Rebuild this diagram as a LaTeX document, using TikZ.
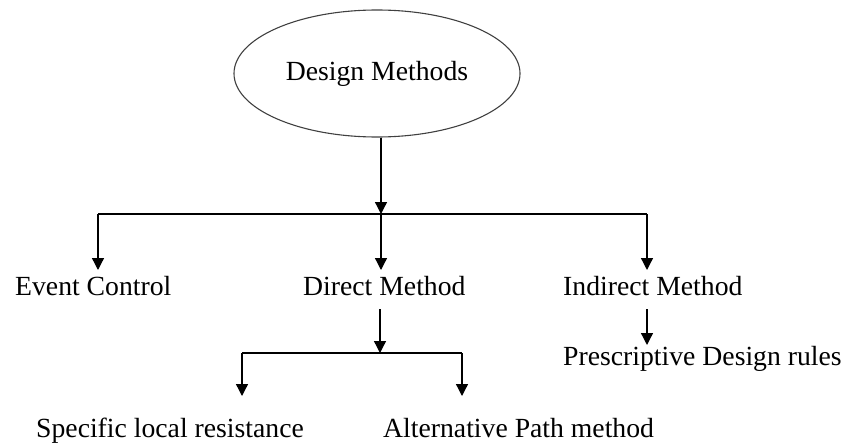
\documentclass[tikz,border=0pt]{standalone}
\usepackage{fontspec}
\setmainfont{Liberation Serif}
\usetikzlibrary{arrows.meta,shapes.geometric}
\begin{document}
\begin{tikzpicture}[x=1pt,y=-1pt,
  conn/.style={line width=1.3pt,draw=black},
  arr/.style={conn,-{Triangle[length=12pt,width=12pt]}},
  lbl/.style={anchor=base west,inner sep=0pt,font=\fontsize{27.7pt}{32pt}\selectfont}]
\useasboundingbox (0,0) rectangle (846,444);
% root
\node[ellipse,draw=black!75,line width=1.1pt,minimum width=286pt,minimum height=127pt,inner sep=0pt,
      font=\fontsize{27.7pt}{32pt}\selectfont] (dm) at (377,73.5) {Design Methods};
% labels
\node[lbl] (ec) at (15,295) {Event Control};
\node[lbl] (dir) at (303,295) {Direct Method};
\node[lbl] (ind) at (563,295) {Indirect Method};
\node[lbl] (pdr) at (563,365) {Prescriptive Design rules};
\node[lbl] (slr) at (36,437) {Specific local resistance};
\node[lbl] (apm) at (383,437) {Alternative Path method};
% junctions and arrow ends
\coordinate (j1) at (381,214);
\coordinate (j1l) at (98,214);
\coordinate (j1r) at (647,214);
\coordinate (tec) at (98,270);
\coordinate (tdir) at (381,270);
\coordinate (tind) at (647,270);
\coordinate (sdir) at (380,309);
\coordinate (j2) at (380,353);
\coordinate (j2l) at (242,353);
\coordinate (j2r) at (462,353);
\coordinate (tslr) at (242,396);
\coordinate (tapm) at (462,396);
\coordinate (sind) at (647,309);
\coordinate (tpdr) at (647,345);
% connectors
\draw[arr] (j1 |- dm.south) -- (j1);
\draw[conn] (j1l) -- (j1r);
\draw[arr] (j1l) -- (tec);
\draw[arr] (j1) -- (tdir);
\draw[arr] (j1r) -- (tind);
\draw[arr] (sdir) -- (j2);
\draw[conn] (j2l) -- (j2r);
\draw[arr] (j2l) -- (tslr);
\draw[arr] (j2r) -- (tapm);
\draw[arr] (sind) -- (tpdr);
\end{tikzpicture}
\end{document}
